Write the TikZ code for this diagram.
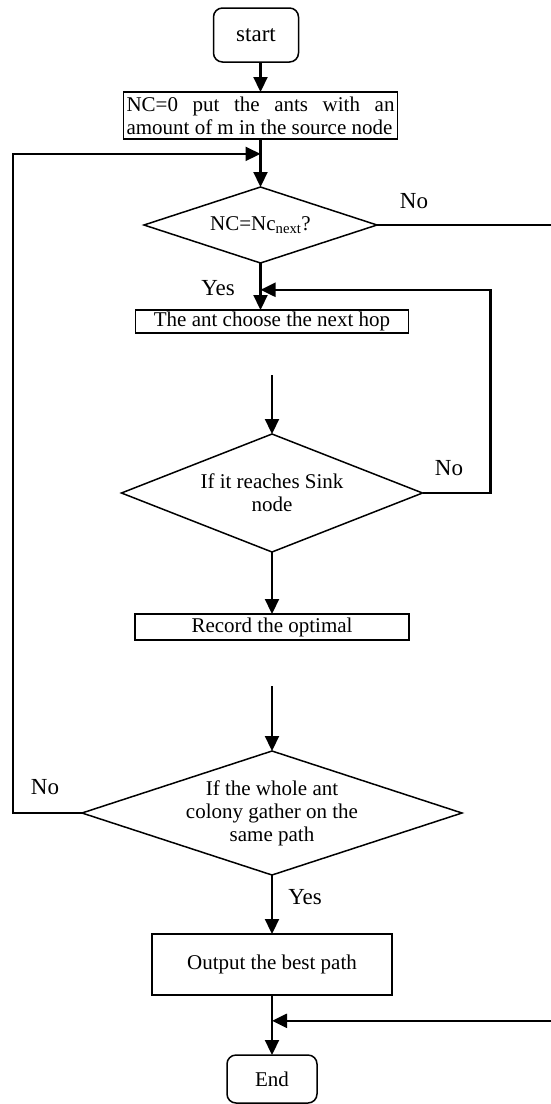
\documentclass[tikz,border=0pt]{standalone}
\usepackage{fontspec}
\setmainfont{Liberation Serif}
\usetikzlibrary{shapes.geometric, arrows.meta, positioning, calc}

\begin{document}
\begin{tikzpicture}[
    x=1pt, y=-1pt,
    font=\fontsize{21}{23}\selectfont,
    term/.style={rectangle, rounded corners=9pt, draw, line width=1.5pt, outer sep=0pt, align=center},
    box/.style={rectangle, draw, line width=1.5pt, inner sep=2pt, outer sep=0pt, align=center},
    decision/.style={diamond, draw, line width=1.5pt, inner sep=0pt, outer sep=0pt, align=center},
    arrow/.style={-{Triangle[length=15pt,width=14pt]}, line width=2.2pt},
    line/.style={line width=2.2pt},
    lbl/.style={inner sep=0pt, font=\fontsize{23}{25}\selectfont}
]
\useasboundingbox (0,0) rectangle (551,1104);

% start and initialisation
\node[term, minimum width=85pt, minimum height=54pt, font=\fontsize{23}{25}\selectfont] (start) at (256,35) {start};
\node[box, below=30pt of start, xshift=4.5pt, text width=268pt, inner xsep=3pt, minimum height=47pt, align=justify] (init) {NC=0 put the ants with an\linebreak amount of m in the source node};

% first test
\node[decision, aspect=3.07, below=48pt of init, minimum width=233pt, minimum height=76pt] (cond) {NC=Nc\textsubscript{next}?};

% next hop and sink test
\node[box, below=47pt of cond, xshift=11.5pt, minimum width=273pt, minimum height=23pt, inner ysep=1pt] (hop) {The ant choose the next hop};
\node[decision, aspect=2.55, below=101pt of hop, minimum width=301pt, minimum height=118pt] (sink) {If it reaches Sink\\node};
\node[box, below=62pt of sink, minimum width=274pt, minimum height=26pt, inner ysep=1pt] (record) {Record the optimal};

% colony test
\node[decision, aspect=3.06, below=111pt of record, minimum width=380pt, minimum height=124pt] (gather) {If the whole ant\\colony gather on the\\same path};
\node[box, below=59pt of gather, minimum width=240pt, minimum height=61pt] (best) {Output the best path};
\node[term, below=60pt of best, minimum width=90pt, minimum height=48pt] (end) {End};

% labels
\node[lbl] (no1) at (414,201) {No};
\node[lbl] (yes1) at (218,288) {Yes};
\node[lbl] (no2) at (449,468) {No};
\node[lbl] (no3) at (45,787) {No};
\node[lbl] (yes3) at (305,897) {Yes};

% join points
\coordinate (join1) at ($(init.south)!0.31!(cond.north)$);
\coordinate (join2) at ($(cond.south)!0.57!(cond.south |- hop.north)$);
\coordinate (join3) at ($(best.south)!0.43!(end.north)$);
\coordinate[below=42pt of hop] (gap1);
\coordinate[below=46pt of record] (gap2);
\coordinate (rightedge) at (551,0);

% arrows
\draw[arrow] (init.north |- start.south) -- (init.north);
\draw[arrow] (init) -- (cond);
\draw[arrow] (cond.south) -- (cond.south |- hop.north);
\draw[arrow] (gap1 -| sink.north) -- (sink.north);
\draw[arrow] (sink) -- (record);
\draw[arrow] (gap2) -- (gather.north);
\draw[arrow] (gather) -- (best);
\draw[arrow] (best) -- (end);

% loops
\draw[arrow] (gather.west) -- ++(-69,0) |- (join1);
\draw[arrow] (sink.east) -- ++(68,0) |- (join2);
\draw[line] (cond.east) -- (cond.east -| rightedge);
\draw[arrow] (join3 -| rightedge) -- (join3);

\end{tikzpicture}
\end{document}
